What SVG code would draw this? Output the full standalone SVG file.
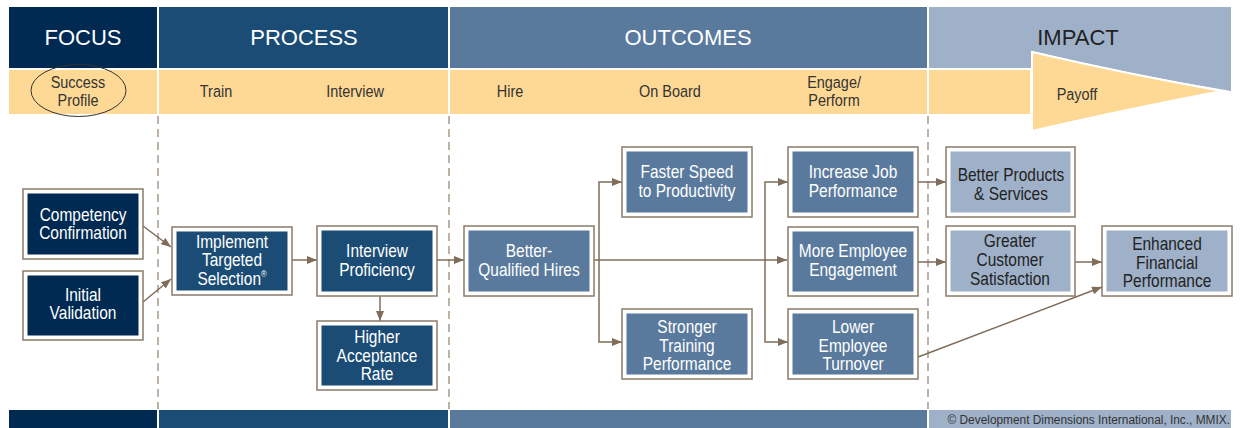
<svg xmlns="http://www.w3.org/2000/svg" width="1241" height="428" viewBox="0 0 1241 428">
<defs>
<marker id="arr" markerWidth="10" markerHeight="8" refX="10" refY="4" orient="auto" markerUnits="userSpaceOnUse">
<path d="M0,0 L10,4 L0,8 Z" fill="#7f6d5a"/>
</marker>
<style>
.hdr{font-family:"Liberation Sans",Arial,sans-serif;font-size:22px;fill:#fff;text-anchor:middle}
.lbl{font-family:"Liberation Sans",Arial,sans-serif;font-size:17px;fill:#333;text-anchor:middle;transform-box:fill-box;transform-origin:center;transform:scaleX(0.85)}
.nt{font-family:"Liberation Sans",Arial,sans-serif;font-size:18px;fill:#fff;text-anchor:middle;transform-box:fill-box;transform-origin:center;transform:scaleX(0.86)}
.dk{fill:#222}
.ob{fill:#fff;stroke:#8b7b69;stroke-width:1.5}
.f1{fill:#002a52}.f2{fill:#1b4c75}.f3{fill:#5a7a9d}.f4{fill:#9fb1c9}.fy{fill:#fed995}
.dash{stroke:#9a8a78;stroke-width:1.3;stroke-dasharray:8 5;fill:none}
.conn{stroke:#7f6d5a;stroke-width:1.5;fill:none}
.copy{font-family:"Liberation Sans",Arial,sans-serif;font-size:13.5px;fill:#333;text-anchor:end;transform-box:fill-box;transform-origin:right center;transform:scaleX(0.88)}
</style>
</defs>
<g id="bands">
<rect class="f1" x="9" y="7" width="148" height="61"/>
<rect class="f2" x="159" y="7" width="289" height="61"/>
<rect class="f3" x="450" y="7" width="477" height="61"/>
<path class="f4" d="M929,7 H1231 V91 Q1127,74 1032,51 V68 H929 Z"/>
<rect class="fy" x="9" y="70" width="148" height="44"/>
<rect class="fy" x="159" y="70" width="289" height="44"/>
<rect class="fy" x="450" y="70" width="477" height="44"/>
<rect class="fy" x="929" y="70" width="101" height="44"/>
<path class="fy" d="M1032,52 Q1127,74 1222,91 Q1127,109 1032,131 Z" stroke="#fff" stroke-width="2"/>
<rect class="f1" x="9" y="410" width="148" height="18"/>
<rect class="f2" x="159" y="410" width="289" height="18"/>
<rect class="f3" x="450" y="410" width="477" height="18"/>
<rect class="f4" x="929" y="410" width="302" height="18"/>
<text class="hdr" x="83" y="45">FOCUS</text>
<text class="hdr" x="304" y="45">PROCESS</text>
<text class="hdr" x="688" y="45">OUTCOMES</text>
<text class="hdr" x="1078" y="45" style="fill:#222">IMPACT</text>
<ellipse cx="78.5" cy="90.5" rx="47.5" ry="26" fill="none" stroke="#333" stroke-width="1"/>
<text class="lbl" x="78" y="88">Success</text>
<text class="lbl" x="78" y="106">Profile</text>
<text class="lbl" x="216" y="97">Train</text>
<text class="lbl" x="355" y="97">Interview</text>
<text class="lbl" x="510" y="97">Hire</text>
<text class="lbl" x="670" y="97">On Board</text>
<text class="lbl" x="834" y="88">Engage/</text>
<text class="lbl" x="834" y="106">Perform</text>
<text class="lbl" x="1077" y="100">Payoff</text>
<text class="copy" x="1230" y="424">© Development Dimensions International, Inc., MMIX.</text>
</g>
<g id="dividers">
<line class="dash" x1="158" y1="116" x2="158" y2="409"/>
<line class="dash" x1="449" y1="116" x2="449" y2="409"/>
<line class="dash" x1="928" y1="116" x2="928" y2="409"/>
</g>
<g id="connectors">
<path class="conn" d="M143,226 L171,247" marker-end="url(#arr)"/>
<path class="conn" d="M143,302 L171,279" marker-end="url(#arr)"/>
<path class="conn" d="M292,260 H317" marker-end="url(#arr)"/>
<path class="conn" d="M380,296 V321" marker-end="url(#arr)"/>
<path class="conn" d="M437,260 H464" marker-end="url(#arr)"/>
<path class="conn" d="M594,260 H787" marker-end="url(#arr)"/>
<path class="conn" d="M599,260 V182 H622" marker-end="url(#arr)"/>
<path class="conn" d="M599,260 V342 H622" marker-end="url(#arr)"/>
<path class="conn" d="M765,260 V182 H788" marker-end="url(#arr)"/>
<path class="conn" d="M765,260 V342 H788" marker-end="url(#arr)"/>
<path class="conn" d="M918,182 H946" marker-end="url(#arr)"/>
<path class="conn" d="M918,262 H946" marker-end="url(#arr)"/>
<path class="conn" d="M1075,262 H1102" marker-end="url(#arr)"/>
<path class="conn" d="M918,357 L1102,287" marker-end="url(#arr)"/>
</g>
<g id="n-competency">
<rect class="ob" x="23" y="189" width="120" height="70"/>
<rect class="f1" x="27.5" y="193.5" width="111" height="61"/>
<text class="nt" x="83" y="221">Competency</text>
<text class="nt" x="83" y="239">Confirmation</text>
</g>
<g id="n-initial">
<rect class="ob" x="23" y="271" width="120" height="69"/>
<rect class="f1" x="27.5" y="275.5" width="111" height="60"/>
<text class="nt" x="83" y="301">Initial</text>
<text class="nt" x="83" y="319">Validation</text>
</g>
<g id="n-implement">
<rect class="ob" x="172" y="227" width="120" height="68"/>
<rect class="f2" x="176.5" y="231.5" width="111" height="59"/>
<text class="nt" x="232" y="248">Implement</text>
<text class="nt" x="232" y="266.5">Targeted</text>
<text class="nt" x="232" y="285">Selection<tspan font-size="9" dy="-8">®</tspan></text>
</g>
<g id="n-interview">
<rect class="ob" x="317" y="226" width="120" height="70"/>
<rect class="f2" x="321.5" y="230.5" width="111" height="61"/>
<text class="nt" x="377" y="257">Interview</text>
<text class="nt" x="377" y="276">Proficiency</text>
</g>
<g id="n-higher">
<rect class="ob" x="317" y="321" width="120" height="69"/>
<rect class="f2" x="321.5" y="325.5" width="111" height="60"/>
<text class="nt" x="377" y="343">Higher</text>
<text class="nt" x="377" y="362">Acceptance</text>
<text class="nt" x="377" y="380">Rate</text>
</g>
<g id="n-better">
<rect class="ob" x="464" y="226" width="130" height="70"/>
<rect class="f3" x="468.5" y="230.5" width="121" height="61"/>
<text class="nt" x="529" y="257">Better-</text>
<text class="nt" x="529" y="276">Qualified Hires</text>
</g>
<g id="n-faster">
<rect class="ob" x="622" y="147" width="130" height="70"/>
<rect class="f3" x="626.5" y="151.5" width="121" height="61"/>
<text class="nt" x="687" y="178">Faster Speed</text>
<text class="nt" x="687" y="197">to Productivity</text>
</g>
<g id="n-stronger">
<rect class="ob" x="622" y="309" width="130" height="70"/>
<rect class="f3" x="626.5" y="313.5" width="121" height="61"/>
<text class="nt" x="687" y="333">Stronger</text>
<text class="nt" x="687" y="352">Training</text>
<text class="nt" x="687" y="370">Performance</text>
</g>
<g id="n-increase">
<rect class="ob" x="788" y="147" width="130" height="70"/>
<rect class="f3" x="792.5" y="151.5" width="121" height="61"/>
<text class="nt" x="853" y="178">Increase Job</text>
<text class="nt" x="853" y="197">Performance</text>
</g>
<g id="n-more">
<rect class="ob" x="788" y="227" width="130" height="69"/>
<rect class="f3" x="792.5" y="231.5" width="121" height="60"/>
<text class="nt" x="853" y="257">More Employee</text>
<text class="nt" x="853" y="276">Engagement</text>
</g>
<g id="n-lower">
<rect class="ob" x="788" y="309" width="130" height="70"/>
<rect class="f3" x="792.5" y="313.5" width="121" height="61"/>
<text class="nt" x="853" y="333">Lower</text>
<text class="nt" x="853" y="352">Employee</text>
<text class="nt" x="853" y="370">Turnover</text>
</g>
<g id="n-products">
<rect class="ob" x="946" y="147" width="129" height="70"/>
<rect class="f4" x="950.5" y="151.5" width="120" height="61"/>
<text class="nt dk" x="1011" y="181">Better Products</text>
<text class="nt dk" x="1011" y="200">&amp; Services</text>
</g>
<g id="n-customer">
<rect class="ob" x="946" y="226" width="129" height="70"/>
<rect class="f4" x="950.5" y="230.5" width="120" height="61"/>
<text class="nt dk" x="1010" y="247">Greater</text>
<text class="nt dk" x="1010" y="266">Customer</text>
<text class="nt dk" x="1010" y="285">Satisfaction</text>
</g>
<g id="n-financial">
<rect class="ob" x="1102" y="226" width="130" height="70"/>
<rect class="f4" x="1106.5" y="230.5" width="121" height="61"/>
<text class="nt dk" x="1167" y="250">Enhanced</text>
<text class="nt dk" x="1167" y="269">Financial</text>
<text class="nt dk" x="1167" y="287">Performance</text>
</g>
</svg>
